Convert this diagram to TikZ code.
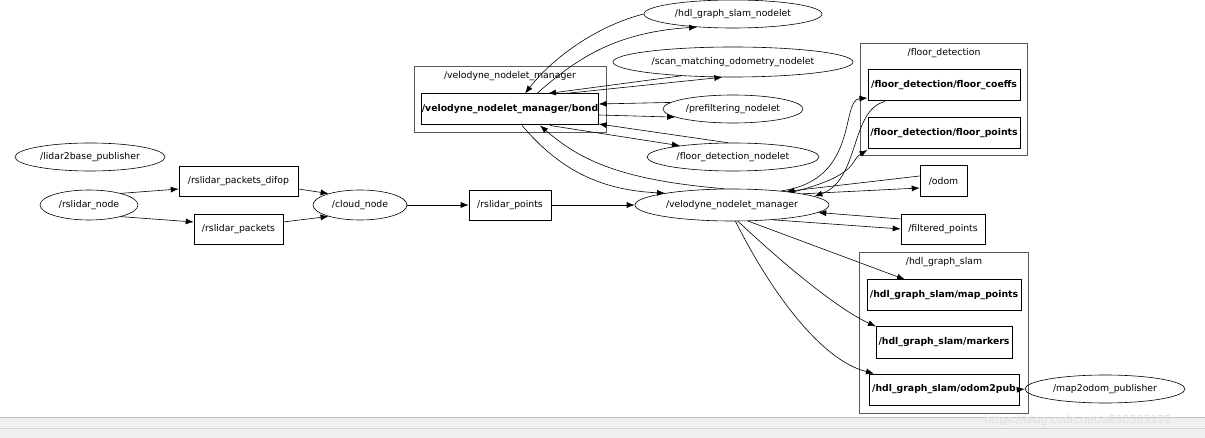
\documentclass[tikz,border=0pt]{standalone}
\usepackage{fontspec}
\setmainfont{DejaVu Sans}
\usetikzlibrary{arrows.meta,shapes.geometric}
\begin{document}
\begin{tikzpicture}[x=1pt,y=-1pt,
  every node/.style={font=\fontsize{9.3}{10.5}\selectfont, inner sep=0pt},
  ell/.style={draw, ellipse, line width=0.6pt, minimum height=28pt},
  box/.style={draw, line width=0.6pt, rectangle, minimum height=30pt},
  bbox/.style={draw, line width=1pt, rectangle, minimum height=31pt, font=\fontsize{9.3}{10.5}\selectfont\bfseries},
  clus/.style={draw, gray!70!black, line width=0.7pt},
  ed/.style={-{Latex[length=8pt,width=6pt]}, line width=0.6pt}]
\useasboundingbox (0,0) rectangle (1205,438);
\fill[gray!12] (0,417) rectangle (1205,438);
\draw[gray!50] (0,417) -- (1205,417);
\draw[gray!35] (0,428) -- (1205,428);
% clusters
\draw[clus] (414,66) rectangle (606,132);
\node at (510,76) {/velodyne\_nodelet\_manager};
\draw[clus] (860,43) rectangle (1027,155);
\node at (944,53) {/floor\_detection};
\draw[clus] (859,252) rectangle (1028,413);
\node at (944,262) {/hdl\_graph\_slam};
% nodes
\node[ell, minimum width=150pt] (l2b) at (90,157) {/lidar2base\_publisher};
\node[ell, minimum width=98pt, minimum height=30pt] (rsn) at (89,205) {/rslidar\_node};
\node[box, minimum width=119pt] (difop) at (238.5,181) {/rslidar\_packets\_difop};
\node[box, minimum width=89pt] (pk) at (238.5,229) {/rslidar\_packets};
\node[ell, minimum width=94pt, minimum height=30pt] (cn) at (360,205) {/cloud\_node};
\node[box, minimum width=82pt] (rp) at (510,205) {/rslidar\_points};
\node[ell, minimum width=194pt, minimum height=32pt] (vm) at (732,205) {/velodyne\_nodelet\_manager};
\node[bbox, minimum width=176pt] (bond) at (510,109.5) {/velodyne\_nodelet\_manager/bond};
\node[ell, minimum width=178pt] (hgn) at (733,14) {/hdl\_graph\_slam\_nodelet};
\node[ell, minimum width=240pt, minimum height=30pt] (smo) at (733,62) {/scan\_matching\_odometry\_nodelet};
\node[ell, minimum width=140pt] (pre) at (733,109) {/prefiltering\_nodelet};
\node[ell, minimum width=172pt] (fdn) at (733,157) {/floor\_detection\_nodelet};
\node[bbox, minimum width=152pt] (fc) at (944,85.5) {/floor\_detection/floor\_coeffs};
\node[bbox, minimum width=152pt] (fp) at (944,133.5) {/floor\_detection/floor\_points};
\node[box, minimum width=47pt, minimum height=31pt] (od) at (943.5,181) {/odom};
\node[box, minimum width=84pt] (fpt) at (943,229) {/filtered\_points};
\node[bbox, minimum width=154pt] (mp) at (944,295.5) {/hdl\_graph\_slam/map\_points};
\node[bbox, minimum width=136pt] (mk) at (944,342.5) {/hdl\_graph\_slam/markers};
\node[bbox, minimum width=150pt] (o2p) at (944,389.5) {/hdl\_graph\_slam/odom2pub};
\node[ell, minimum width=160pt] (m2o) at (1105,389) {/map2odom\_publisher};
\node[text=gray!25, font=\fontsize{11}{12}\selectfont] (wm) at (1078,420) {https://blog.csdn.net/a850565178};
% edges
\draw[ed] (rsn.20) -- (difop.west |- 0,189);
\draw[ed] (rsn.-20) -- (pk.west |- 0,222);
\draw[ed] (difop.east |- 0,189) -- (cn.160);
\draw[ed] (pk.east |- 0,222) -- (cn.-160);
\draw[ed] (cn.east) -- (rp.west);
\draw[ed] (rp.east) -- (vm.west);
% bond <-> nodelets
\draw[ed] (hgn.west) .. controls (600,25) and (555,55) .. (bond.north west -| 525,0);
\draw[ed] (bond.north west -| 537,0) .. controls (580,55) and (620,32) .. (hgn.-160);
\draw[ed] (smo.-165) -- (bond.north west -| 548,0);
\draw[ed] (bond.north east -| 565,0) -- (smo.-125);
\draw[ed] (pre.174) -- (bond.east |- 0,104);
\draw[ed] (bond.east |- 0,115) -- (pre.-172);
\draw[ed] (fdn.110) -- (bond.east |- 0,124);
\draw[ed] (bond.south -| 550,0) -- (fdn.168);
\draw[ed] (bond.south -| 522,0) .. controls (560,170) and (600,190) .. (vm.170);
\draw[ed] (vm.115) .. controls (620,180) and (580,160) .. (bond.south -| 540,0);
% manager <-> right
\draw[ed] (vm.16) .. controls (860,180) and (840,100) .. (fc.west |- 0,98);
\draw[ed] (vm.12) .. controls (860,175) and (850,160) .. (fp.west |- 0,150);
\draw[ed] (fc.south west -| 885,0) .. controls (850,110) and (860,180) .. (vm.6);
\draw[ed] (od.west |- 0,176) -- (vm.14);
\draw[ed] (vm.9) -- (od.west |- 0,188);
\draw[ed] (fpt.west |- 0,219) -- (vm.-5);
\draw[ed] (vm.-20) -- (fpt.west |- 0,229);
\draw[ed] (vm.-45) -- (mp.north west -| 905,0);
\draw[ed] (vm.-70) .. controls (790,270) and (840,310) .. (mk.north west -| 876,0);
\draw[ed] (vm.-78) .. controls (770,290) and (820,360) .. (o2p.north west -| 874,0);
\draw[ed] (o2p.east) -- (m2o.west);
\end{tikzpicture}
\end{document}
